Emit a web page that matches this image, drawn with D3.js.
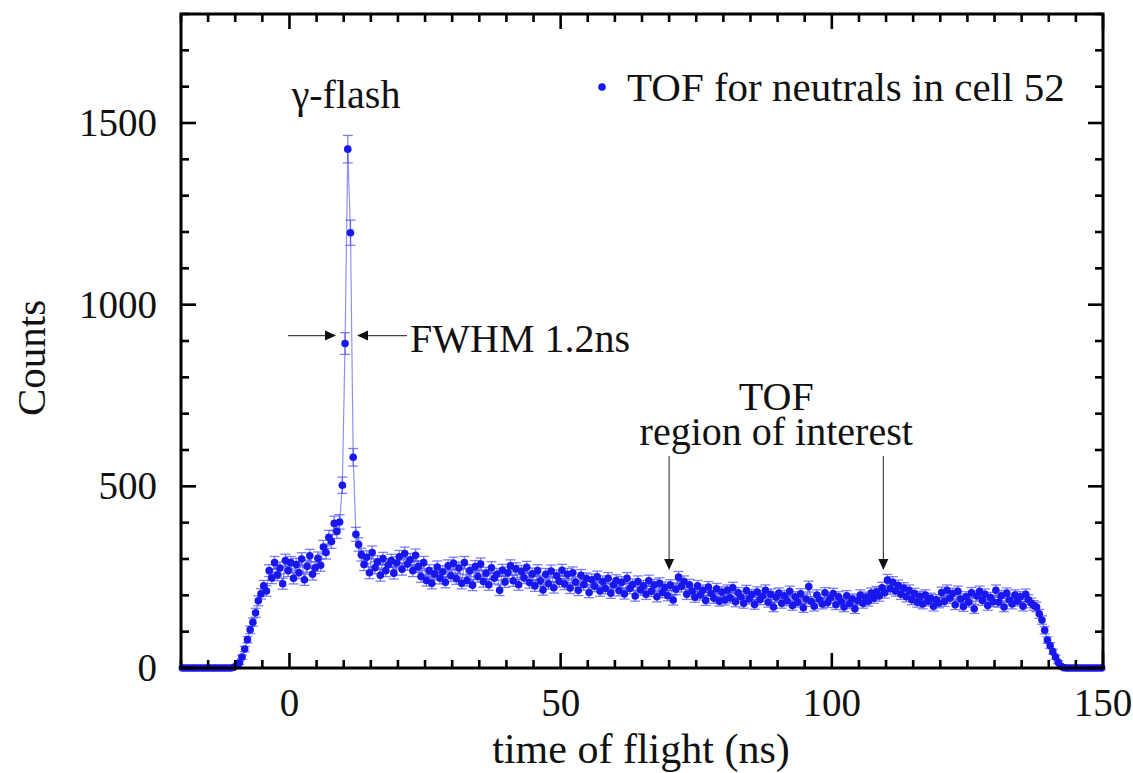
<!DOCTYPE html>
<html>
<head>
<meta charset="utf-8">
<script src="https://cdn.jsdelivr.net/npm/d3@7/dist/d3.min.js"></script>
<style>
  html, body { margin: 0; padding: 0; background: #fff; }
  svg { display: block; }
  text { font-family: "Liberation Serif", "Times New Roman", serif; fill: #111; }
</style>
</head>
<body>
<svg id="chart" width="1133" height="773"></svg>
<script>
// Histogram of neutral time of flight, cell 52: 0.5 ns bins starting at -20 ns
const binStart = -20;
const binWidth = 0.5;
const counts = [
  // -20 .. -10 ns
  0, 0, 0, 0, 0, 0, 0, 0, 0, 0, 0, 0, 0, 0, 0, 0, 0, 0, 0, 2,
  // -10 .. 0 ns
  6, 14, 30, 52, 78, 105, 126, 152, 185, 204,
  226, 212, 268, 248, 290, 256, 275, 232, 296, 268,
  // 0 .. 10 ns
  290, 247, 285, 262, 300, 243, 280, 309, 258, 276,
  302, 283, 333, 318, 360, 348, 398, 376, 402, 503,
  // 10 .. 20 ns (gamma flash)
  893, 1428, 1198, 580, 368, 340, 312, 285, 305, 262,
  318, 276, 292, 255, 301, 268, 284, 296, 261, 289,
  // 20 .. 30 ns
  306, 272, 315, 286, 298, 268, 310, 279, 252, 290,
  241, 268, 233, 259, 278, 247, 265, 236, 281, 254,
  // 30 .. 40 ns
  288, 246, 275, 233, 290, 241, 268, 228, 279, 252,
  286, 238, 261, 229, 276, 247, 258, 214, 269, 237,
  // 40 .. 50 ns
  262, 281, 240, 273, 229, 266, 248, 277, 235, 259,
  226, 268, 240, 215, 258, 232, 267, 221, 254, 238,
  // 50 .. 60 ns
  269, 231, 258, 220, 262, 236, 214, 255, 229, 246,
  208, 243, 225, 251, 212, 238, 219, 247, 206, 229,
  // 60 .. 70 ns
  241, 213, 236, 204, 247, 219, 230, 198, 238, 215,
  226, 203, 240, 211, 229, 196, 233, 208, 222, 199,
  // 70 .. 80 ns
  228, 187, 217, 250, 224, 238, 203, 229, 212, 195,
  226, 201, 214, 186, 223, 205, 192, 218, 184, 209,
  // 80 .. 90 ns
  187, 214, 193, 221, 182, 207, 196, 178, 213, 190,
  202, 175, 209, 188, 198, 214, 181, 203, 168, 195,
  // 90 .. 100 ns
  206, 178, 199, 185, 211, 172, 196, 181, 204, 166,
  190, 224, 183, 170, 201, 188, 176, 207, 180, 193,
  // 100 .. 110 ns
  205, 174, 196, 183, 168, 199, 177, 190, 163, 186,
  201, 178, 195, 184, 206, 192, 210, 198, 221, 207,
  // 110 .. 120 ns
  242, 218, 236, 212, 227, 203, 220, 196, 214, 188,
  205, 181, 197, 176, 201, 184, 192, 170, 188, 179,
  // 120 .. 130 ns
  208, 183, 214, 192, 205, 174, 211, 190, 169, 196,
  181, 207, 163, 198, 211, 186, 203, 172, 194, 182,
  // 130 .. 140 ns
  214, 181, 199, 168, 206, 187, 176, 201, 184, 196,
  170, 203, 188, 179, 172, 168, 149, 132, 104, 77,
  // 140 .. 150 ns
  62, 45, 30, 16, 5, 1, 0, 0, 0, 0,
  0, 0, 0, 0, 0, 0, 0, 0, 0, 0
];

const xTicks = [0, 50, 100, 150];
const yTicks = [0, 500, 1000, 1500];
const xDomain = [-20, 150];
const yDomain = [0, 1800];

const legendLabel = "TOF for neutrals in cell 52";
const xTitle = "time of flight (ns)";
const yTitle = "Counts";
const flashLabel = "γ-flash";
const fwhmLabel = "FWHM 1.2ns";
const fwhmLevel = 915;
const roiLabel = ["TOF", "region of interest"];
const roiMarks = [70, 109.5];

const data = counts.map((c, i) => ({
  t: binStart + binWidth * (i + 0.5),
  n: c,
  err: Math.sqrt(c)
}));

const svg = d3.select("#chart");
const plotL = 181, plotR = 1103, plotT = 14, plotB = 668;

const x = d3.scaleLinear().domain(xDomain).range([plotL, plotR]);
const y = d3.scaleLinear().domain(yDomain).range([plotB, plotT]);

const blue = "#1818ee";
const paleBlue = "#9090f2";

// connecting line
svg.append("path")
  .datum(data)
  .attr("fill", "none")
  .attr("stroke", paleBlue)
  .attr("stroke-width", 1.2)
  .attr("d", d3.line().x(d => x(d.t)).y(d => y(d.n)));

// error bars
const eb = svg.append("g").attr("stroke", "#4a4af2").attr("stroke-width", 1.3).attr("stroke-opacity", 0.7);
data.filter(d => d.err > 0).forEach(d => {
  const cx = x(d.t), y0 = y(d.n - d.err), y1 = y(d.n + d.err);
  eb.append("line").attr("x1", cx).attr("x2", cx).attr("y1", y0).attr("y2", y1);
  eb.append("line").attr("x1", cx - 5).attr("x2", cx + 5).attr("y1", y0).attr("y2", y0);
  eb.append("line").attr("x1", cx - 5).attr("x2", cx + 5).attr("y1", y1).attr("y2", y1);
});

// markers
svg.append("g").selectAll("circle")
  .data(data)
  .join("circle")
  .attr("cx", d => x(d.t))
  .attr("cy", d => y(d.n))
  .attr("r", 3.8)
  .attr("fill", blue);

// frame with inward ticks on all four sides
const axisG = svg.append("g");
axisG.append("rect")
  .attr("x", plotL).attr("y", plotT)
  .attr("width", plotR - plotL).attr("height", plotB - plotT)
  .attr("fill", "none").attr("stroke", "#000").attr("stroke-width", 3);

const xMinor = d3.range(xDomain[0], xDomain[1] + 0.001, 5);
const yMinor = d3.range(yDomain[0], yDomain[1] + 0.001, 100);
const tickW = 2.6;
xMinor.forEach(v => {
  const len = xTicks.includes(v) ? 15 : 8;
  axisG.append("line").attr("x1", x(v)).attr("x2", x(v)).attr("y1", plotB).attr("y2", plotB - len)
    .attr("stroke", "#000").attr("stroke-width", tickW);
  axisG.append("line").attr("x1", x(v)).attr("x2", x(v)).attr("y1", plotT).attr("y2", plotT + len)
    .attr("stroke", "#000").attr("stroke-width", tickW);
});
yMinor.forEach(v => {
  const len = yTicks.includes(v) ? 15 : 8;
  axisG.append("line").attr("x1", plotL).attr("x2", plotL + len).attr("y1", y(v)).attr("y2", y(v))
    .attr("stroke", "#000").attr("stroke-width", tickW);
  axisG.append("line").attr("x1", plotR).attr("x2", plotR - len).attr("y1", y(v)).attr("y2", y(v))
    .attr("stroke", "#000").attr("stroke-width", tickW);
});

// tick labels
const labelSize = 39;
svg.append("g").selectAll("text")
  .data(xTicks)
  .join("text")
  .attr("x", d => x(d)).attr("y", 716)
  .attr("text-anchor", "middle")
  .attr("font-size", labelSize)
  .text(d => d);
svg.append("g").selectAll("text")
  .data(yTicks)
  .join("text")
  .attr("x", 157).attr("y", d => y(d) + 13)
  .attr("text-anchor", "end")
  .attr("font-size", labelSize)
  .text(d => d);

// axis titles
svg.append("text")
  .attr("x", 641).attr("y", 763)
  .attr("text-anchor", "middle")
  .attr("font-size", 42)
  .text(xTitle);
svg.append("text")
  .attr("transform", "translate(45,358) rotate(-90)")
  .attr("text-anchor", "middle")
  .attr("font-size", 41)
  .text(yTitle);

// legend
svg.append("circle").attr("cx", 602).attr("cy", 87).attr("r", 3.8).attr("fill", blue);
svg.append("text")
  .attr("x", 627).attr("y", 101)
  .attr("font-size", 41)
  .text(legendLabel);

// annotations
const annoSize = 40;
svg.append("text")
  .attr("x", 346).attr("y", 108)
  .attr("text-anchor", "middle")
  .attr("font-size", annoSize)
  .text(flashLabel);

const arrowCol = "#444";
function arrow(x1, y1, x2, y2) {
  const g = svg.append("g");
  const ang = Math.atan2(y2 - y1, x2 - x1);
  const hl = 11, hw = 5;
  const bx = x2 - hl * Math.cos(ang), by = y2 - hl * Math.sin(ang);
  g.append("line").attr("x1", x1).attr("y1", y1).attr("x2", bx).attr("y2", by)
    .attr("stroke", arrowCol).attr("stroke-width", 1.2);
  const px = -Math.sin(ang) * hw, py = Math.cos(ang) * hw;
  g.append("path")
    .attr("d", `M${x2},${y2}L${bx + px},${by + py}L${bx - px},${by - py}Z`)
    .attr("fill", "#111");
}

const fy = y(fwhmLevel);
arrow(288, fy, 336, fy);
arrow(407, fy, 357, fy);
svg.append("text")
  .attr("x", 410).attr("y", 352)
  .attr("font-size", annoSize)
  .text(fwhmLabel);

const roiCentre = (x(roiMarks[0]) + x(roiMarks[1])) / 2;
svg.append("text")
  .attr("x", roiCentre).attr("y", 410)
  .attr("text-anchor", "middle")
  .attr("font-size", annoSize)
  .text(roiLabel[0]);
svg.append("text")
  .attr("x", roiCentre).attr("y", 445)
  .attr("text-anchor", "middle")
  .attr("font-size", annoSize)
  .text(roiLabel[1]);
roiMarks.forEach(m => arrow(x(m), 456, x(m), 570));
</script>
</body>
</html>
